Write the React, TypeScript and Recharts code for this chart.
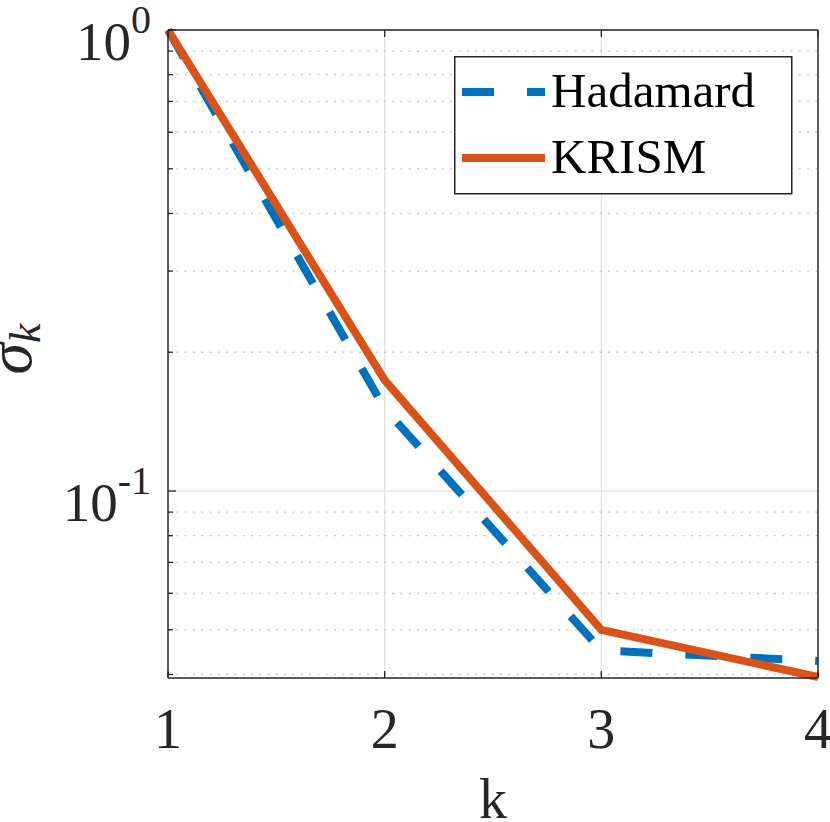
import React from "react";
import { LineChart, Line, XAxis, YAxis, CartesianGrid, Legend } from "recharts";

// singular values vs k
const ks = [1, 2, 3, 4];
const hadamard = [1.0, 0.151, 0.0451, 0.0428];
const krism = [1.0, 0.174, 0.05, 0.0395];

const xTicks = [1, 2, 3, 4];
const yMajor = [0.1, 1];
const yMinor = [0.04, 0.05, 0.06, 0.07, 0.08, 0.09, 0.2, 0.3, 0.4, 0.5, 0.6, 0.7, 0.8, 0.9];
const yTicks = [...yMinor, ...yMajor].sort((a, b) => a - b);
const yLabels: Record<string, string> = { "0.1": "-1", "1": "0" };

const series = [
  { key: "hadamard", name: "Hadamard", color: "#0072BD", dash: "32 33" },
  { key: "krism", name: "KRISM", color: "#D95319", dash: undefined },
];

const data = ks.map((k, i) => ({ k, hadamard: hadamard[i], krism: krism[i] }));

const AX = "#262626";
const FONT = "'Liberation Serif', 'Times New Roman', serif";

function LeftTick(props: any) {
  const { x, y, payload } = props;
  const major = yMajor.includes(payload.value);
  const exp = yLabels[String(payload.value)];
  return (
    <g>
      <line x1={x} x2={x + (major ? 8 : 5)} y1={y} y2={y} stroke={AX} strokeWidth={1.3} />
      {exp !== undefined && (
        <text x={151} y={y + 30} textAnchor="end" fontFamily={FONT} fontSize={55} fill={AX}>
          10
          <tspan dy={-27} fontSize={40}>{exp}</tspan>
        </text>
      )}
    </g>
  );
}

function RightTick(props: any) {
  const { x, y, payload } = props;
  const major = yMajor.includes(payload.value);
  return <line x1={x} x2={x - (major ? 8 : 5)} y1={y} y2={y} stroke={AX} strokeWidth={1.3} />;
}

function BottomTick(props: any) {
  const { x, y, payload } = props;
  return (
    <g>
      <line x1={x} x2={x} y1={y} y2={y - 7} stroke={AX} strokeWidth={1.3} />
      <text x={x} y={y + 70} textAnchor="middle" fontFamily={FONT} fontSize={56} fill={AX}>
        {payload.value}
      </text>
    </g>
  );
}

function TopTick(props: any) {
  const { x, y } = props;
  return <line x1={x} x2={x} y1={y} y2={y + 7} stroke={AX} strokeWidth={1.3} />;
}

function LegendBox() {
  return (
    <svg width={340} height={140} style={{ display: "block" }}>
      <rect x={0.75} y={0.75} width={337} height={137} fill="#fff" stroke={AX} strokeWidth={1.5} />
      {series.map((s, i) => {
        const ly = 36 + i * 66;
        return (
          <g key={s.key}>
            <line x1={8} x2={91} y1={ly} y2={ly} stroke={s.color} strokeWidth={8} strokeDasharray={s.dash} />
            <text x={97} y={ly + 15} fontFamily={FONT} fontSize={49} fill="#000">
              {s.name}
            </text>
          </g>
        );
      })}
    </svg>
  );
}

export default function App() {
  return (
    <div style={{ position: "absolute", left: 0, top: 0, background: "#fff" }}>
      <LineChart width={830} height={822} data={data} margin={{ top: 0, right: 0, bottom: 0, left: 0 }}>
        <CartesianGrid
          xAxisId="bottom"
          yAxisId="left"
          horizontalValues={yMajor}
          verticalValues={[2, 3]}
          stroke="#e3e3e3"
          strokeWidth={1.3}
        />
        <CartesianGrid
          xAxisId="bottom"
          yAxisId="left"
          horizontalValues={yMinor}
          vertical={false}
          stroke="#c4c4c4"
          strokeWidth={1.3}
          strokeDasharray="2 6.3"
        />
        <XAxis
          xAxisId="bottom"
          dataKey="k"
          type="number"
          domain={[1, 4]}
          ticks={xTicks}
          interval={0}
          height={144}
          tickSize={0}
          tickMargin={0}
          tickLine={false}
          tick={<BottomTick />}
          axisLine={{ stroke: AX, strokeWidth: 1.5 }}
          label={{
            content: (p: any) => {
              const vb = p.viewBox;
              return (
                <text x={vb.x + vb.width / 2} y={vb.y + 140} textAnchor="middle" fontFamily={FONT} fontSize={56} fill={AX}>
                  k
                </text>
              );
            },
          }}
        />
        <XAxis
          xAxisId="top"
          orientation="top"
          dataKey="k"
          type="number"
          domain={[1, 4]}
          ticks={xTicks}
          interval={0}
          height={30}
          tickSize={0}
          tickMargin={0}
          tickLine={false}
          tick={<TopTick />}
          axisLine={{ stroke: AX, strokeWidth: 1.5 }}
        />
        <YAxis
          yAxisId="left"
          scale="log"
          type="number"
          domain={[0.0393, 1]}
          ticks={yTicks}
          interval={0}
          width={168}
          tickSize={0}
          tickMargin={0}
          tickLine={false}
          tick={<LeftTick />}
          axisLine={{ stroke: AX, strokeWidth: 1.5 }}
          label={{
            content: (p: any) => {
              const vb = p.viewBox;
              const cx = 31;
              const cy = vb.y + vb.height / 2 - 5;
              return (
                <text
                  x={cx}
                  y={cy}
                  transform={`rotate(-90 ${cx} ${cy})`}
                  textAnchor="middle"
                  fontFamily={FONT}
                  fontStyle="italic"
                  fill={AX}
                >
                  <tspan fontSize={64}>σ</tspan>
                  <tspan fontSize={44} dy={9}>k</tspan>
                </text>
              );
            },
          }}
        />
        <YAxis
          yAxisId="right"
          orientation="right"
          scale="log"
          type="number"
          domain={[0.0393, 1]}
          ticks={yTicks}
          interval={0}
          width={12}
          tickSize={0}
          tickMargin={0}
          tickLine={false}
          tick={<RightTick />}
          axisLine={{ stroke: AX, strokeWidth: 1.5 }}
        />
        {series.map((s) => (
          <Line
            key={s.key}
            xAxisId="bottom"
            yAxisId="left"
            dataKey={s.key}
            name={s.name}
            type="linear"
            stroke={s.color}
            strokeWidth={8}
            strokeDasharray={s.dash}
            strokeLinecap="butt"
            strokeLinejoin="miter"
            dot={false}
            activeDot={false}
            isAnimationActive={false}
          />
        ))}
        <Legend
          layout="vertical"
          align="center"
          verticalAlign="middle"
          wrapperStyle={{ left: 454, top: 56, width: 340, height: 140 }}
          content={() => <LegendBox />}
        />
      </LineChart>
    </div>
  );
}
